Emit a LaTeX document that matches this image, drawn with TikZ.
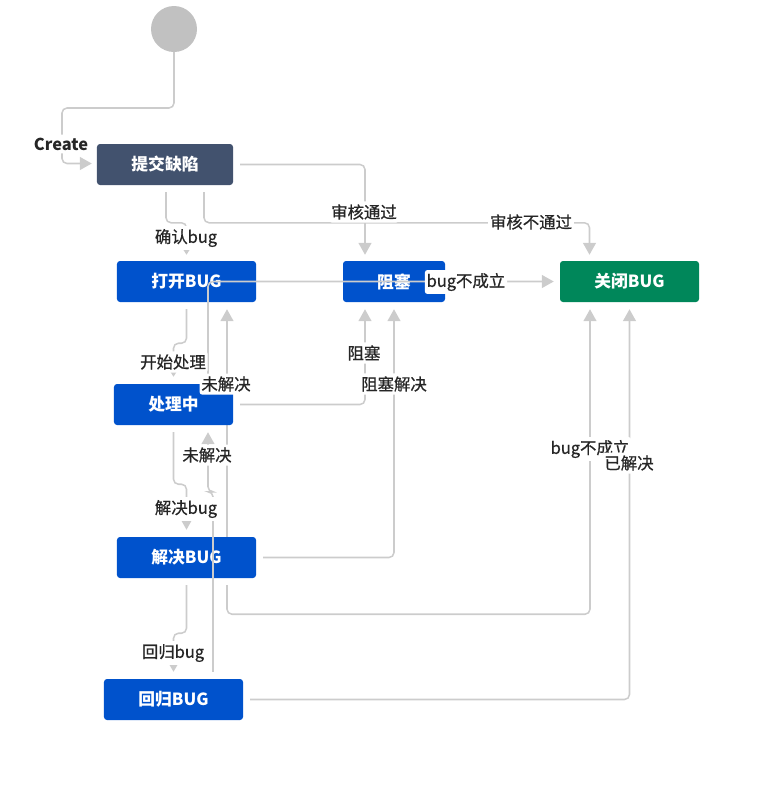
\documentclass[tikz,border=0pt]{standalone}
\usepackage{fontspec}
\setmainfont{Noto Sans CJK SC}
\newfontfamily\tagfont[FakeBold=0.8]{Noto Sans CJK SC}
\usetikzlibrary{arrows.meta,calc}
\definecolor{slateblue}{HTML}{42526E}
\definecolor{jirablue}{HTML}{0052CC}
\definecolor{jiragreen}{HTML}{00875A}
\definecolor{linegray}{HTML}{CCCCCC}
\definecolor{startgray}{HTML}{C1C1C1}
\definecolor{tagtext}{HTML}{262626}
\pgfdeclarelayer{lines}
\pgfdeclarelayer{front}
\pgfsetlayers{main,lines,front}

\begin{document}
\begin{tikzpicture}[x=0.03cm, y=-0.03cm]
    \tikzstyle{state} = [rectangle, rounded corners=0.09cm, fill=jirablue, text=white, font=\fontsize{14.3}{16}\selectfont\bfseries, minimum width=4.17cm, minimum height=1.23cm, inner sep=0pt]
    \tikzstyle{flow} = [draw=linegray, line width=1.3pt, rounded corners=0.15cm, -{Triangle[width=0.39cm,length=0.36cm]}]
    \tikzstyle{thinflow} = [flow, -{Triangle[width=0.18cm,length=0.15cm]}]
    \tikzstyle{midflow} = [flow, -{Triangle[width=0.27cm,length=0.24cm]}]
    \tikzstyle{tag} = [fill=white, text=tagtext, rounded corners=2pt, font=\fontsize{14}{16}\selectfont\tagfont, inner xsep=1.5pt, inner ysep=2.5pt]

    \useasboundingbox (0,0) rectangle (771,800);

    % Start
    \node [circle, fill=startgray, minimum size=1.38cm, inner sep=0pt] (start) at (174,29) {};

    % Submitted
    \node [state, fill=slateblue, minimum width=4.08cm] (submit) at (165,164.5) {提交缺陷};

    % Open
    \node [state] (open) at (186.5,281.5) {打开BUG};

    % Blocked
    \node [state, minimum width=3.06cm] (blocked) at (394,281.5) {阻塞};

    % Closed
    \node [state, fill=jiragreen] (closed) at (629.5,281.5) {关闭BUG};

    % In progress (kept above the lines)
    \begin{pgfonlayer}{front}
    \node [state, minimum width=3.57cm] (doing) at (173.5,404.5) {处理中};
    \end{pgfonlayer}

    % Resolved
    \node [state] (resolved) at (186.5,557.5) {解决BUG};

    % Retest
    \node [state] (retest) at (173.5,699.5) {回归BUG};

    \begin{pgfonlayer}{lines}
    % Create
    \draw [flow] (start.south) |- (62,108) |- ($(submit.west)+(-5,-1)$);
    % 确认bug
    \draw [thinflow] ($(submit.south)+(1,7)$) |- ($(open.north)+(0,-38)$) -- ($(open.north)+(0,-6)$);
    % 审核通过
    \draw [flow] ($(submit.east)+(7,0)$) -| ($(blocked.north)+(-29,-6)$);
    % 审核不通过
    \draw [flow] ($(submit.south)+(39,7)$) |- ($(closed.north)+(-40,-38)$) -- ($(closed.north)+(-40,-6)$);
    % 开始处理
    \draw [thinflow] ($(open.south)+(0,7)$) -- ++(0,34) -| ($(doing.north)+(0,-7)$);
    % bug不成立, from 处理中
    \draw [flow] ($(doing.north)+(34.5,0)$) |- ($(closed.west)+(-6,0)$);
    % 未解决, back to 打开BUG
    \draw [flow] ($(resolved.north)+(40.5,0)$) -- ($(open.south)+(40.5,7)$);
    % 阻塞
    \draw [flow] ($(doing.east)+(7,0)$) -| ($(blocked.south)+(-29,7)$);
    % 阻塞解决
    \draw [flow] ($(resolved.east)+(7,0)$) -| ($(blocked.south)+(0,7)$);
    % 解决bug
    \draw [flow] ($(doing.south)+(0,7)$) -- ++(0,52) -| ($(resolved.north)+(0,-7)$);
    % 未解决, back to 处理中
    \draw [flow] ($(retest.north)+(39.5,-7)$) -- ++(0,-180) -| ($(doing.south)+(34.5,7)$);
    % bug不成立, from 解决BUG
    \draw [flow] ($(resolved.south)+(40.5,7)$) -- ++(0,29) -| ($(closed.south)+(-39.5,7)$);
    % 回归bug
    \draw [midflow] ($(resolved.south)+(0,7)$) -- ++(0,48) -| ($(retest.north)+(0,-7)$);
    % 已解决
    \draw [flow] ($(retest.east)+(7,0)$) -| ($(closed.south)+(0,7)$);
    \end{pgfonlayer}

    % Labels
    \begin{pgfonlayer}{front}
    \node [tag, font=\fontsize{14}{16}\selectfont\bfseries] (t-create) at (61,144) {Create};
    \node [tag] (t-confirm) at (186,238) {确认bug};
    \node [tag] (t-pass) at (364,212) {审核通过};
    \node [tag] (t-reject) at (531,222) {审核不通过};
    \node [tag] (t-invalid) at (466,282) {bug不成立};
    \node [tag] (t-start) at (173,362) {开始处理};
    \node [tag] (t-reopen) at (226,384) {未解决};
    \node [tag] (t-block) at (364,353) {阻塞};
    \node [tag] (t-unblock) at (394,384) {阻塞解决};
    \node [tag] (t-fail) at (207,455) {未解决};
    \node [tag] (t-resolve) at (186,509) {解决bug};
    \node [tag] (t-invalid2) at (590,449) {bug不成立};
    \node [tag] (t-done) at (629,463) {已解决};
    \node [tag] (t-retest) at (173,653) {回归bug};
    \end{pgfonlayer}

\end{tikzpicture}
\end{document}
